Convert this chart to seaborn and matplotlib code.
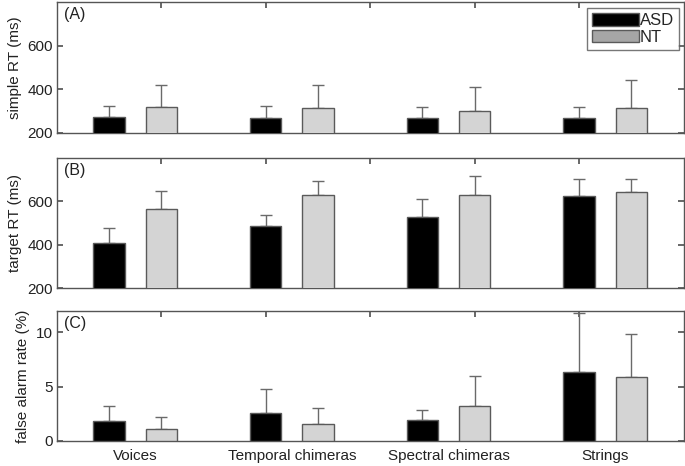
import matplotlib
matplotlib.use('Agg')
import matplotlib.pyplot as plt
import pandas as pd
import seaborn as sns

categories = ['Voices', 'Temporal chimeras', 'Spectral chimeras', 'Strings']
groups = ['ASD', 'NT']

# simple RT (ms): means and upper error bar ends
simple_asd = [273, 267, 270, 266]
simple_nt = [317, 312, 301, 312]
simple_asd_err = [50, 57, 50, 54]
simple_nt_err = [104, 109, 110, 128]

# target RT (ms)
target_asd = [409, 485, 529, 625]
target_nt = [565, 626, 628, 643]
target_asd_err = [67, 52, 81, 78]
target_nt_err = [82, 68, 86, 60]

# false alarm rate (%)
fa_asd = [1.87, 2.58, 1.96, 6.35]
fa_nt = [1.10, 1.57, 3.25, 5.92]
fa_asd_err = [1.38, 2.18, 0.89, 5.45]
fa_nt_err = [1.08, 1.44, 2.73, 3.90]

panels = [
    ('(A)', 'simple RT (ms)', simple_asd, simple_nt, simple_asd_err, simple_nt_err, (200, 800), [200, 400, 600]),
    ('(B)', 'target RT (ms)', target_asd, target_nt, target_asd_err, target_nt_err, (200, 800), [200, 400, 600]),
    ('(C)', 'false alarm rate (%)', fa_asd, fa_nt, fa_asd_err, fa_nt_err, (0, 12), [0, 5, 10]),
]

sns.set_theme(style='white')
plt.rcParams['font.family'] = ['Liberation Sans', 'DejaVu Sans']

palette = {'ASD': '#000000', 'NT': '#d4d4d4'}
edge = '#5a5a5a'

fig = plt.figure(figsize=(6.85, 4.66), dpi=100)
boxes = [(0.715, 0.996), (0.381, 0.662), (0.054, 0.333)]

for i, (tag, ylabel, asd, nt, asd_err, nt_err, ylim, yticks) in enumerate(panels):
    bottom, top = boxes[i]
    ax = fig.add_axes([0.083, bottom, 0.915, top - bottom])
    df = pd.DataFrame({
        'category': categories * 2,
        'group': ['ASD'] * 4 + ['NT'] * 4,
        'value': asd + nt,
        'err': asd_err + nt_err,
    })
    sns.barplot(data=df, x='category', y='value', hue='group', order=categories,
                hue_order=groups, palette=palette, width=2 / 3, gap=0.4,
                errorbar=None, edgecolor=edge, linewidth=1.0, saturation=1,
                legend=(i == 0), ax=ax, zorder=3)

    # upper-only error bars at the bar centres seaborn laid out
    bars = [p for p in ax.patches if p.get_height() > 0 or p.get_width() > 0][:8]
    for p, e in zip(bars, asd_err + nt_err):
        xc = p.get_x() + p.get_width() / 2
        top_v = p.get_height() + (p.get_y() if p.get_y() else 0)
        ax.errorbar([xc], [top_v], yerr=[[0], [e]], fmt='none', ecolor='#6a6a6a',
                    elinewidth=1.0, capsize=4, capthick=1.0, zorder=2)

    ax.set_xlim(-0.5, 3.5)
    ax.set_ylim(*ylim)
    ax.set_yticks(yticks)
    ax.set_xlabel('')
    ax.set_ylabel(ylabel, fontsize=11, color='#222222')
    ax.tick_params(axis='y', direction='in', length=4, right=True, left=True,
                   labelsize=11, colors='#555555', labelcolor='#222222', pad=3)
    ax.tick_params(axis='x', length=0, labelsize=11, labelcolor='#222222', pad=6)
    if i < 2:
        ax.set_xticklabels([])
    top_ax = ax.secondary_xaxis('top')
    top_ax.set_xticks([1 / 6, 5 / 6, 1.5, 13 / 6, 17 / 6])
    top_ax.set_xticklabels([])
    top_ax.tick_params(direction='in', length=4, colors='#555555')
    top_ax.spines['top'].set_visible(False)
    for s in ax.spines.values():
        s.set_color('#555555')
        s.set_linewidth(1.0)
    ax.text(0.012, 0.96, tag, transform=ax.transAxes, ha='left', va='top',
            fontsize=11.5, color='#222222')

    if i == 0:
        leg = ax.legend(loc='upper right', bbox_to_anchor=(0.992, 0.955), fontsize=12,
                        frameon=True, fancybox=False, edgecolor='#555555',
                        handlelength=2.8, handleheight=0.8, handletextpad=0.05,
                        borderpad=0.3, labelspacing=0.1, borderaxespad=0.0)
        leg.get_frame().set_linewidth(1.0)
        handles = leg.legend_handles
        handles[0].set_facecolor('#000000')
        handles[1].set_facecolor('#a6a6a6')
        for h in handles:
            h.set_edgecolor(edge)

fig.savefig('out.png', dpi=100)
